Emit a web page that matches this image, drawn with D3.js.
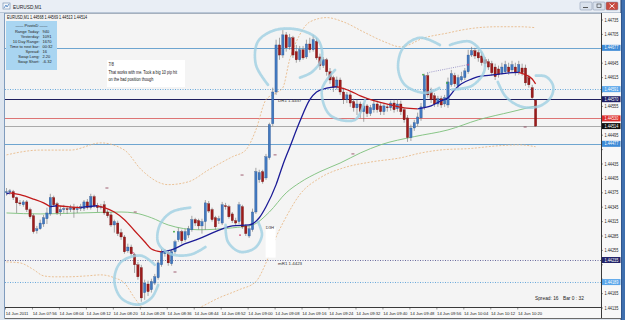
<!DOCTYPE html>
<html>
<head>
<meta charset="utf-8">
<script src="https://cdn.jsdelivr.net/npm/d3@7"></script>
<style>
  body { margin: 0; background: #fff; }
  svg { display: block; font-family: "Liberation Sans", Arial, sans-serif; }
</style>
</head>
<body>
<div id="chart"></div>
<script>
// EURUSD M1, 14 Jun 2011, one bar per minute from 07:48
// prices are in points above 1.44000 (e.g. 514 = 1.44514)

var opens = [375,377,377,365,354,350,356,340,327,296, 300,310,321,331,365,352,335,340,342,340,
  344,340,342,342,356,344,367,348,344,350, 335,329,308,312,292,283,254,262,246,225,
  219,167,185,173,187,198,225,248,250,227, 252,277,294,277,287,298,319,317,306,315,
  352,340,323,317,312,348,346,331,317,315, 346,306,285,298,335,402,419,406,448,519,
  585,683,662,704,679,698,669,652,673,658, 685,673,690,658,640,652,627,615,594,610,
  585,569,579,565,552,560,544,556,540,548, 560,556,544,554,552,562,550,560,548,531,
  490,510,519,531,554,619,585,577,560,571, 560,558,600,619,598,610,615,627,662,671,
  667,660,652,648,644,637,633,625,627,637, 631,637,625,635,635,615,594,568];
var closes = [377,379,365,354,352,356,340,325,294,300, 312,323,333,365,350,333,340,342,340,344,
  340,342,346,356,344,367,348,344,346,333, 327,308,315,290,283,252,262,248,225,200,
  156,187,169,190,200,229,252,252,229,252, 273,294,275,294,300,319,312,306,315,354,
  337,319,304,321,350,346,325,317,312,350, 304,290,300,335,419,417,398,450,517,585,
  683,662,704,677,698,662,652,673,656,685, 673,694,656,640,652,627,610,594,610,585,
  569,579,562,552,560,544,556,540,552,560, 548,544,556,552,562,548,560,544,527,490,
  510,521,533,554,619,579,569,560,571,558, 573,606,623,602,615,617,629,662,671,660,
  656,646,644,637,625,617,621,637,642,627, 642,625,642,625,604,600,573,514];
var highs = [385,383,381,367,360,360,360,344,331,306, 319,329,344,373,369,356,348,350,348,350,
  352,348,352,360,362,373,371,354,352,358, 340,335,319,317,300,287,269,267,250,231,
  225,194,192,196,206,235,258,258,254,258, 277,302,298,300,306,327,323,321,321,360,
  358,344,327,327,356,354,350,335,323,356, 350,310,306,342,427,423,423,456,521,594,
  694,698,714,710,706,702,683,681,681,694, 698,704,698,665,658,656,635,619,617,615,
  594,585,585,571,569,565,562,560,558,569, 567,562,562,560,567,569,569,567,552,537,
  517,527,542,562,623,625,594,583,577,577, 579,615,631,625,621,627,635,673,679,677,
  673,669,658,654,650,644,640,646,650,646, 650,646,650,644,642,621,600,569];
var lows = [369,371,360,333,348,346,335,321,290,290, 298,304,310,327,346,329,327,333,331,335,
  323,333,337,337,340,340,344,335,340,329, 323,304,292,285,277,248,250,244,208,194,
  148,152,160,167,183,194,221,242,223,223, 248,273,269,273,281,294,306,298,290,298,
  333,315,298,310,308,340,321,312,308,310, 300,285,281,294,331,396,394,402,444,514,
  579,652,656,669,673,656,646,648,652,654, 667,669,652,631,635,619,602,585,590,579,
  560,562,554,544,537,531,523,533,535,542, 542,537,537,544,546,542,544,537,521,481,
  483,504,514,525,548,573,562,554,554,552, 554,552,596,596,592,606,610,623,658,654,
  648,640,637,631,619,610,615,621,623,621, 625,619,621,619,598,594,569,513];

var timeLabels = ["14 Jun 2011","14 Jun 07:56","14 Jun 08:04","14 Jun 08:12","14 Jun 08:20",
  "14 Jun 08:28","14 Jun 08:36","14 Jun 08:44","14 Jun 08:52","14 Jun 09:00","14 Jun 09:08",
  "14 Jun 09:16","14 Jun 09:24","14 Jun 09:32","14 Jun 09:40","14 Jun 09:48","14 Jun 09:56",
  "14 Jun 10:04","14 Jun 10:12","14 Jun 10:20"];
var timeLabelBars = [0,8,16,24,32,40,48,56,64,72,80,88,96,104,112,120,128,136,144,152];
var priceTicks = [135,165,195,225,255,285,315,345,375,405,435,465,495,525,555,585,615,645,675,705,735];

// horizontal price levels (pivots, bid/ask)
var levelPrices = [677, 591, 570, 530, 514, 477, 235, 189];

// indicator samples: [bar, price]
var maLine = [[0,373],[1,375],[4,371],[8,362],[11,354],[13,346],[15,348],[18,346],[22,344],[24,346],
  [27,348],[29,344],[32,335],[35,319],[38,296],[41,273],[43,258],[46,252],[49,256],[53,269],
  [57,279],[62,294],[67,306],[72,308],[75,323],[77,346],[80,392],[82,433],[84,469],[87,523],
  [90,569],[92,585],[95,593],[98,596],[102,587],[105,577],[109,567],[114,558],[118,552],[122,550],
  [126,556],[129,567],[131,573],[133,590],[135,602],[138,612],[140,617],[145,621],[149,625],[152,626],
  [154,621],[156,612],[157,602]];
var slowMa = [[0,333],[10,331],[22,333],[34,335],[38,333],[43,323],[48,308],[57,298],[67,302],[73,308],
  [78,335],[83,375],[87,396],[93,419],[99,437],[105,458],[111,475],[121,492],[131,506],[140,527],
  [150,544],[157,556]];
var upperBand = [[0,454],[10,464],[19,464],[28,479],[35,464],[40,423],[48,392],[54,398],[60,423],[67,450],
  [71,464],[74,506],[77,569],[80,583],[82,594],[84,652],[87,704],[90,731],[95,740],[100,731],
  [106,710],[112,690],[117,679],[124,698],[131,708],[135,714],[140,719],[146,721],[152,721],[157,719]];
var lowerBand = [[0,231],[4,229],[8,215],[11,202],[14,200],[18,200],[24,202],[28,204],[32,198],[35,187],
  [38,156],[41,131],[46,119],[51,119],[57,135],[63,156],[69,173],[74,190],[77,229],[80,283],
  [83,325],[87,371],[93,406],[100,427],[108,439],[117,448],[123,458],[130,465],[137,467],[146,473],
  [152,475],[157,471]];

// hand-drawn circles on the chart: [bar, price]
var scribbles = [
  [[44,225],[40,244],[34,231],[32,194],[34,156],[39,142],[43,156],[45,183]],
  [[54.5,344],[49,335],[45.5,308],[45,271],[48.5,248],[54.5,246],[59,262]],
  [[65,308],[65.7,273],[69.3,252],[73.7,260],[75.8,287],[74.6,315]],
  [[77.6,600],[74,642],[74.6,690],[79.7,714],[87.1,714],[92.4,694],[93.6,656],[90.7,627],[87.1,615]],
  [[97.5,631],[93.6,590],[96,537],[103.4,527],[106.4,569]],
  [[128.6,683],[122.7,698],[117.7,677],[116.2,635],[118.2,600],[124.2,583],[128.6,594]],
  [[131.6,683],[137.5,690],[141.4,662],[141.7,627],[138.1,598],[132.2,590]],
  [[145.8,606],[148.2,575],[153,554],[158.3,556],[161.6,575],[162.2,598],[160.1,617],[157.1,619]]
];
var dashMarks = [[29.8,385],[38.2,335],[69.9,412],[79.7,454],[102.8,456],[153.9,512],[50,210]];
var upDots = [[123.6,621],[130.7,604],[49.7,294]];
var downDots = [[37.5,250],[69.3,287],[137,642]];
var trendLine = [[124.8,625],[137,642]];

var pivotNames = ["Range Today:","Yesterday:","10 Day Range:","Time to next bar:","Spread:","Swap Long:","Swap Short:"];
var pivotValues = ["940","1091","1670","00:32","16","2.20","-6.32"];
var noteLines = ["7/8","That works with me. Took a big 10 pip hit","on the bad position though"];

// ---------------------------------------------------------------

var W = 625, H = 334;
var plot = {left: 5, right: 601, top: 13, bottom: 307};

var x = d3.scaleLinear().domain([0, 157]).range([6.5, 6.5 + 3.37 * 157]);
var y = d3.scaleLinear().domain([135, 735]).range([308, 20]);
var fmt = p => (1.44 + p / 1e5).toFixed(5);

var svg = d3.select("#chart").append("svg")
    .attr("width", W)
    .attr("height", H);

function squeeze(sel, k) {
  sel.each(function() {
    var w = this.getComputedTextLength();
    d3.select(this).attr("textLength", w * k).attr("lengthAdjust", "spacingAndGlyphs");
  });
}

// window frame
svg.append("rect").attr("width", W).attr("height", H).attr("fill", "#ffffff");
svg.append("rect").attr("width", 621).attr("height", 320).attr("fill", "#dde5ef");
svg.append("rect").attr("width", 621).attr("height", 13).attr("fill", "#e9eef5");
svg.append("line").attr("x1", 0).attr("x2", 621).attr("y1", 12.5).attr("y2", 12.5).attr("stroke", "#b9c6d6");
svg.append("rect").attr("x", 621).attr("y", 0).attr("width", 4).attr("height", 320).attr("fill", "#3f6fae");
svg.append("line").attr("x1", 621).attr("x2", 621).attr("y1", 0).attr("y2", 320).attr("stroke", "#233f6a");

// title bar
var icon = svg.append("g").attr("transform", "translate(3,3)");
icon.append("rect").attr("width", 7).attr("height", 6).attr("fill", "#f4f7fb").attr("stroke", "#6a86a8").attr("stroke-width", 0.6);
icon.append("path").attr("d", "M1,5 L3,2 L4,4 L6,1").attr("fill", "none").attr("stroke", "#2f6fb8").attr("stroke-width", 0.7);
svg.append("text").attr("x", 13).attr("y", 8.5).attr("font-size", 6.2).attr("fill", "#1b1b1b")
    .text("EURUSD,M1").call(squeeze, 0.78);

var btns = [{x: 580, fill: "#d9e1ec"}, {x: 593, fill: "#d9e1ec"}, {x: 606, fill: "#c94a3e"}];
svg.selectAll("rect.btn").data(btns).enter().append("rect")
    .attr("class", "btn")
    .attr("x", d => d.x).attr("y", 2).attr("width", 12).attr("height", 8)
    .attr("rx", 1).attr("fill", d => d.fill).attr("stroke", "#7d8fa8").attr("stroke-width", 0.5);
svg.append("line").attr("x1", 583).attr("x2", 588).attr("y1", 7.5).attr("y2", 7.5).attr("stroke", "#333").attr("stroke-width", 0.8);
svg.append("rect").attr("x", 597).attr("y", 4).attr("width", 4).attr("height", 3.5).attr("fill", "none").attr("stroke", "#333").attr("stroke-width", 0.6);
svg.append("path").attr("d", "M609.5,3.8 L614.5,8.2 M614.5,3.8 L609.5,8.2").attr("stroke", "#fff").attr("stroke-width", 0.9);

// plot, price axis and time axis backgrounds
svg.append("rect").attr("x", plot.left).attr("y", plot.top)
    .attr("width", plot.right - plot.left).attr("height", plot.bottom - plot.top).attr("fill", "#f4f4f4");
svg.append("rect").attr("x", plot.right).attr("y", plot.top).attr("width", 20).attr("height", 306).attr("fill", "#f8f8f8");
svg.append("rect").attr("x", plot.left).attr("y", plot.bottom).attr("width", plot.right - plot.left).attr("height", 11).attr("fill", "#f8f8f8");

svg.append("defs").append("clipPath").attr("id", "clip")
  .append("rect").attr("x", plot.left).attr("y", plot.top)
    .attr("width", plot.right - plot.left).attr("height", plot.bottom - plot.top);

var g = svg.append("g").attr("clip-path", "url(#clip)");

// price levels
var levelStyle = [
  {c: "#5f9ccc", w: 0.9, dash: null},
  {c: "#5aa0d8", w: 0.9, dash: "1,1.5"},
  {c: "#20205e", w: 1.2, dash: null},
  {c: "#d23c3c", w: 0.7, dash: null},
  {c: "#8a8a8a", w: 0.7, dash: null},
  {c: "#5f9ccc", w: 0.9, dash: null},
  {c: "#5a5a94", w: 0.9, dash: "1,1.5"},
  {c: "#5aa0d8", w: 0.9, dash: "1,1.5"}
];
g.selectAll("line.level").data(levelPrices).enter().append("line")
    .attr("class", "level")
    .attr("x1", plot.left).attr("x2", plot.right)
    .attr("y1", d => Math.round(y(d)) + 0.5).attr("y2", d => Math.round(y(d)) + 0.5)
    .attr("stroke", (d, i) => levelStyle[i].c)
    .attr("stroke-width", (d, i) => levelStyle[i].w)
    .attr("stroke-dasharray", (d, i) => levelStyle[i].dash);

// bollinger style bands and slow MA
var line = d3.line().x(d => x(d[0])).y(d => y(d[1])).curve(d3.curveMonotoneX);
[upperBand, lowerBand].forEach(band => {
  g.append("path").attr("d", line(band)).attr("fill", "none")
      .attr("stroke", "#e7b47e").attr("stroke-width", 0.8).attr("stroke-dasharray", "2,1.5");
});
g.append("path").attr("d", line(slowMa)).attr("fill", "none")
    .attr("stroke", "#7cc07a").attr("stroke-width", 0.9);

// annotation labels
g.append("rect").attr("x", x(76.9)).attr("y", y(304)).attr("width", 10).attr("height", y(240) - y(304)).attr("fill", "#ffffff");
g.append("text").attr("x", x(76.9)).attr("y", y(300)).attr("font-size", 4.2).attr("fill", "#333").text("D3H");
g.append("text").attr("x", x(80.6)).attr("y", y(564)).attr("font-size", 4.4).attr("fill", "#333").text("DR1  1.4457");
g.append("text").attr("x", x(80.6)).attr("y", y(225)).attr("font-size", 4.4).attr("fill", "#333").text("mR1  1.4423");

// candles
var bars = d3.range(opens.length);
g.selectAll("line.wick").data(bars).enter().append("line")
    .attr("class", "wick")
    .attr("x1", i => x(i)).attr("x2", i => x(i))
    .attr("y1", i => y(highs[i])).attr("y2", i => y(lows[i]))
    .attr("stroke", "#6f6f6f").attr("stroke-width", 0.6);
g.selectAll("rect.body").data(bars).enter().append("rect")
    .attr("class", "body")
    .attr("x", i => x(i) - 1.15)
    .attr("width", 2.3)
    .attr("y", i => y(Math.max(opens[i], closes[i])))
    .attr("height", i => Math.max(0.8, Math.abs(y(opens[i]) - y(closes[i]))))
    .attr("fill", i => closes[i] >= opens[i] ? "#4279c0" : "#9d1b1b")
    .attr("stroke", i => closes[i] >= opens[i] ? "#234c86" : "#640d0d")
    .attr("stroke-width", 0.3);

// moving average, blue while rising and red while falling
var runs = [], cur = [maLine[0]], dir = null;
for (var k = 1; k < maLine.length; k++) {
  var d = maLine[k][1] >= maLine[k - 1][1] ? "up" : "down";
  if (dir && d !== dir) { runs.push({dir: dir, pts: cur}); cur = [maLine[k - 1]]; }
  dir = d;
  cur.push(maLine[k]);
}
runs.push({dir: dir, pts: cur});
g.selectAll("path.ma").data(runs).enter().append("path")
    .attr("class", "ma")
    .attr("d", r => line(r.pts))
    .attr("fill", "none")
    .attr("stroke", r => r.dir === "up" ? "#1b1b96" : "#c21a1a")
    .attr("stroke-width", 1.3);

// small markers
g.selectAll("line.mark").data(dashMarks).enter().append("line")
    .attr("class", "mark")
    .attr("x1", d => x(d[0]) - 1.5).attr("x2", d => x(d[0]) + 1.5)
    .attr("y1", d => y(d[1])).attr("y2", d => y(d[1]))
    .attr("stroke", "#8a3a50").attr("stroke-width", 0.8);
g.selectAll("circle.up").data(upDots).enter().append("circle")
    .attr("cx", d => x(d[0])).attr("cy", d => y(d[1])).attr("r", 0.9).attr("fill", "#3aa63a");
g.selectAll("circle.dn").data(downDots).enter().append("circle")
    .attr("cx", d => x(d[0])).attr("cy", d => y(d[1])).attr("r", 0.9).attr("fill", "#d2406a");
g.append("path").attr("d", d3.line().x(d => x(d[0])).y(d => y(d[1]))(trendLine))
    .attr("stroke", "#7a72b8").attr("stroke-width", 0.7).attr("stroke-dasharray", "1,1.2");

// hand drawn circles
var scribble = d3.line().x(d => x(d[0])).y(d => y(d[1])).curve(d3.curveCatmullRom.alpha(0.5));
g.selectAll("path.scribble").data(scribbles).enter().append("path")
    .attr("class", "scribble")
    .attr("d", scribble)
    .attr("fill", "none")
    .attr("stroke", "#9fd0e2")
    .attr("stroke-width", 2.7)
    .attr("stroke-linecap", "round")
    .attr("stroke-dasharray", "0.9,0.8")
    .attr("opacity", 0.8);

// header and info panels
svg.append("text").attr("x", 7).attr("y", 18.5).attr("font-size", 5.2).attr("fill", "#111")
    .text("EURUSD,M1  1.44568 1.44569 1.44513 1.44514").call(squeeze, 0.72);

var pv = svg.append("g");
pv.append("rect").attr("x", 6).attr("y", 21).attr("width", 51).attr("height", 49).attr("fill", "#a9d5f1");
pv.append("text").attr("x", 31.5).attr("y", 27).attr("text-anchor", "middle").attr("font-size", 4).attr("fill", "#222")
    .text("—— PivotsD ——");
pv.selectAll("text.pn").data(pivotNames).enter().append("text")
    .attr("class", "pn")
    .attr("x", 39.5).attr("y", (d, i) => 32.5 + i * 5.1)
    .attr("text-anchor", "end").attr("font-size", 4).attr("fill", "#222")
    .text(d => d);
pv.selectAll("text.pvv").data(pivotValues).enter().append("text")
    .attr("class", "pvv")
    .attr("x", 42.5).attr("y", (d, i) => 32.5 + i * 5.1)
    .attr("font-size", 4).attr("fill", "#222")
    .text(d => d);

svg.append("rect").attr("x", 107).attr("y", 60).attr("width", 78).attr("height", 27).attr("fill", "#ffffff");
svg.selectAll("text.note").data(noteLines).enter().append("text")
    .attr("class", "note")
    .attr("x", 108.5).attr("y", (d, i) => 66 + i * 7.6)
    .attr("font-size", 5.6).attr("fill", "#151515")
    .text(d => d).call(squeeze, 0.68);

svg.append("text").attr("x", 535).attr("y", 300).attr("font-size", 4.8).attr("fill", "#222")
    .text("Spread: 16");
svg.append("text").attr("x", 563).attr("y", 300).attr("font-size", 4.8).attr("fill", "#222")
    .text("Bar  0 : 32");

// borders
svg.append("line").attr("x1", 4.5).attr("x2", 4.5).attr("y1", plot.top).attr("y2", 318).attr("stroke", "#7f9bbd");
svg.append("line").attr("x1", plot.left).attr("x2", plot.right).attr("y1", plot.top + 0.5).attr("y2", plot.top + 0.5).attr("stroke", "#a5b0bd");
svg.append("line").attr("x1", plot.right + 0.5).attr("x2", plot.right + 0.5).attr("y1", plot.top).attr("y2", 318).attr("stroke", "#3a3a3a");
svg.append("line").attr("x1", plot.left).attr("x2", plot.right).attr("y1", plot.bottom + 0.5).attr("y2", plot.bottom + 0.5).attr("stroke", "#3a3a3a");
svg.append("line").attr("x1", 4.5).attr("x2", 621).attr("y1", 318.5).attr("y2", 318.5).attr("stroke", "#6b6b6b");

// price axis: plain ticks hidden where a level label sits on top
var pa = svg.append("g");
var freeTicks = priceTicks.filter(t => levelPrices.every(l => Math.abs(y(t) - y(l)) > 6.5));
pa.selectAll("line.pt").data(priceTicks).enter().append("line")
    .attr("x1", plot.right).attr("x2", plot.right + 2)
    .attr("y1", d => y(d)).attr("y2", d => y(d))
    .attr("stroke", "#333").attr("stroke-width", 0.5);
pa.selectAll("text.pt").data(freeTicks).enter().append("text")
    .attr("class", "pt")
    .attr("x", plot.right + 3.5).attr("y", d => y(d) + 1.6)
    .attr("font-size", 4.8).attr("fill", "#222")
    .text(fmt).call(squeeze, 0.8);

var levelFill = ["#3d8ad6", "#5aa6ea", "#1e1e64", "#dd2c2c", "#111111", "#3d8ad6", "#24246a", "#5aa6ea"];
var hl = pa.selectAll("g.hl").data(levelPrices).enter().append("g").attr("class", "hl");
hl.append("rect")
    .attr("x", plot.right + 1).attr("y", d => y(d) - 3)
    .attr("width", 18.5).attr("height", 6)
    .attr("fill", (d, i) => levelFill[i]);
hl.append("text")
    .attr("x", plot.right + 3.5).attr("y", d => y(d) + 1.6)
    .attr("font-size", 4.8).attr("fill", "#ffffff")
    .text(fmt).call(squeeze, 0.8);

// time axis
var ta = svg.append("g");
ta.selectAll("line.tt").data(timeLabelBars).enter().append("line")
    .attr("x1", b => x(b) - 1).attr("x2", b => x(b) - 1)
    .attr("y1", plot.bottom).attr("y2", plot.bottom + 2.5)
    .attr("stroke", "#333").attr("stroke-width", 0.5);
ta.selectAll("text.tt").data(timeLabelBars).enter().append("text")
    .attr("x", b => x(b) - 0.8).attr("y", 314.5)
    .attr("font-size", 4.2).attr("fill", "#222")
    .text((b, i) => timeLabels[i]);
</script>
</body>
</html>
